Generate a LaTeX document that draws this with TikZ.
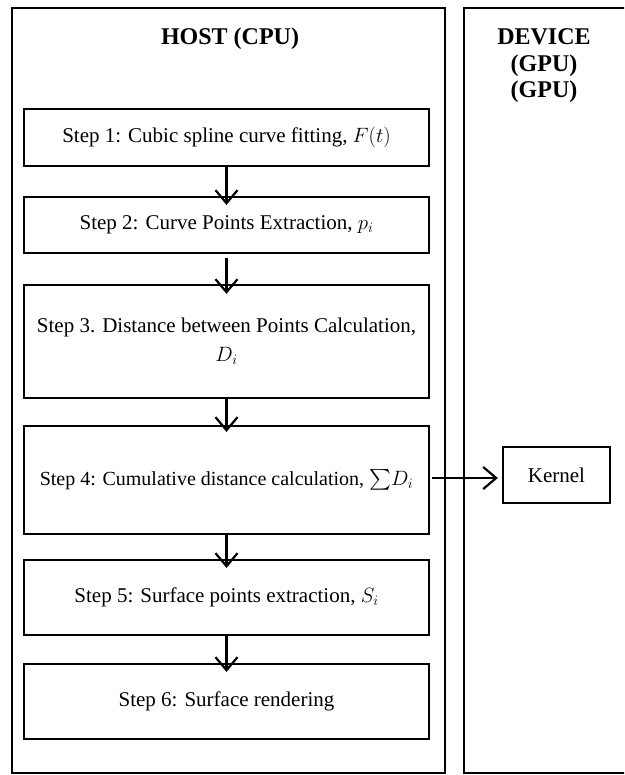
\documentclass[tikz,border=0pt]{standalone}
\usepackage{exscale}
\usepackage{fontspec}
\setmainfont{Liberation Serif}
\usetikzlibrary{arrows.meta}
\begin{document}
\begin{tikzpicture}[x=1pt,y=-1pt,
  lane/.style={draw, line width=2.2pt, inner sep=0pt},
  stepbox/.style={draw, line width=2.2pt, minimum width=405pt, inner sep=2pt,
    align=center, font=\fontsize{21}{29}\selectfont},
  title/.style={align=center, font=\fontsize{24}{26.5}\selectfont\bfseries},
  flow/.style={line width=2.2pt, -{Straight Barb[length=13pt,width=22pt,line width=2.2pt]}}]
  \useasboundingbox (0,0) rectangle (624,775);
  \clip (0,0) rectangle (624,775);
  % swimlanes
  \node[lane, minimum width=433pt, minimum height=765pt] (host) at (228.5,390.5) {};
  \node[lane, minimum width=170pt, minimum height=765pt] (dev) at (549,390.5) {};
  \node[title] (hosttitle) at (230,39) {HOST (CPU)};
  \node[title] (devtitle) at (544,66) {DEVICE\\(GPU)\\(GPU)};
  % processing steps
  \node[stepbox, minimum height=57pt] (s1) at (226.5,137.5) {Step 1: Cubic spline curve fitting, $F(t)$};
  \node[stepbox, minimum height=56pt] (s2) at (226.5,225) {Step 2: Curve Points Extraction, $p_i$};
  \node[stepbox, minimum height=113pt] (s3) at (226.5,341.5) {Step 3. Distance between Points Calculation,\\$D_i$};
  \node[stepbox, minimum height=108pt, font=\fontsize{20}{28}\selectfont] (s4) at (226.5,480) {Step 4: Cumulative distance calculation, $\sum\! D_i$};
  \node[stepbox, minimum height=75pt] (s5) at (226.5,597.5) {Step 5: Surface points extraction, $S_i$};
  \node[stepbox, minimum height=75pt] (s6) at (226.5,701.5) {Step 6: Surface rendering};
  \node[stepbox, minimum width=107pt, minimum height=56pt] (kern) at (556.5,475) {Kernel};
  % connectors
  \coordinate (k4) at ([yshift=2pt]s4.east);
  \draw[flow, shorten >=-9pt] (s1.south) -- (s2.north);
  \draw[flow, shorten <=4pt, shorten >=-10pt] (s2.south) -- (s3.north);
  \draw[flow, shorten >=-7pt] (s3.south) -- (s4.north);
  \draw[flow, shorten >=-9pt] (s4.south) -- (s5.north);
  \draw[flow, shorten >=-9pt] (s5.south) -- (s6.north);
  \draw[flow, shorten <=2pt, shorten >=4pt] (k4) -- (kern.west |- k4);
\end{tikzpicture}
\end{document}
